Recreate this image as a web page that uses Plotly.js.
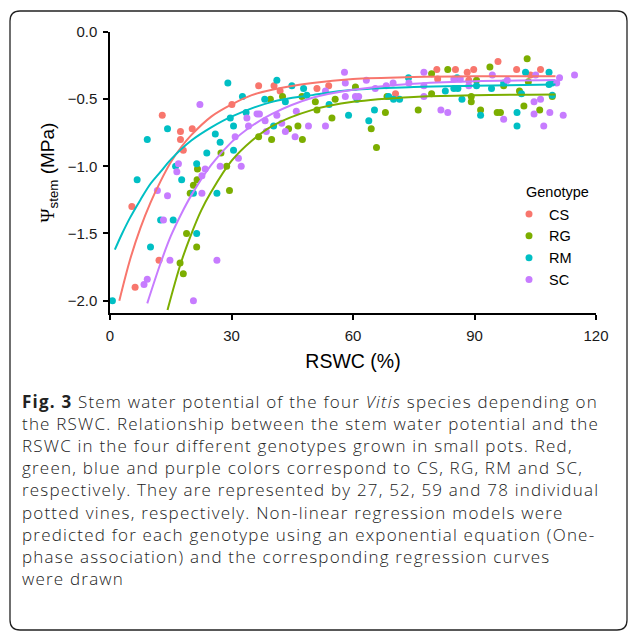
<!DOCTYPE html>
<html>
<head>
<meta charset="utf-8">
<script src="https://cdn.plot.ly/plotly-3.0.1.min.js"></script>
<style>html,body{margin:0;padding:0;background:#fff;}#chart{width:629px;height:634px;}</style>
</head>
<body>
<div id="chart"></div>
<script>
// ---- data ----
const genotypes = ["CS", "RG", "RM", "SC"];
const colors = ["#F8766D", "#7CAE00", "#00BFC4", "#C77CFF"];

const csX = [5.4, 6.2, 12.1, 12.9, 17.4, 17.4, 18.1, 20.3, 30.1, 36.7, 40.5, 42.0, 51.1, 54.0, 70.5, 80.7, 80.9, 85.3, 88.2, 88.6, 89.8, 95.8, 100.4, 103.8, 106.3];
const csY = [-1.30, -1.90, -1.70, -0.62, -0.74, -0.80, -0.88, -0.72, -0.54, -0.40, -0.40, -0.44, -0.42, -0.40, -0.46, -0.28, -0.35, -0.28, -0.30, -0.36, -0.28, -0.22, -0.28, -0.32, -0.28];

const rgX = [17.3, 18.1, 18.9, 19.8, 20.6, 21.4, 21.5, 21.6, 27.4, 28.8, 29.5, 36.7, 39.6, 39.9, 42.6, 44.1, 46.4, 47.4, 47.5, 50.7, 51.1, 54.8, 55.6, 60.6, 64.5, 65.8, 68.0, 68.4, 76.1, 79.4, 79.4, 83.4, 89.2, 89.2, 90.5, 91.5, 93.8, 95.6, 96.4, 97.2, 101.1, 102.2, 103.0, 103.3, 106.1, 109.2];
const rgY = [-1.72, -1.80, -1.50, -1.20, -1.14, -1.60, -1.10, -1.02, -0.90, -1.00, -1.18, -0.78, -0.50, -0.80, -0.48, -0.72, -0.70, -0.48, -0.80, -0.52, -0.58, -0.64, -0.50, -0.41, -0.72, -0.86, -0.60, -0.48, -0.58, -0.31, -0.46, -0.28, -0.48, -0.52, -0.36, -0.58, -0.26, -0.60, -0.60, -0.40, -0.44, -0.55, -0.20, -0.37, -0.58, -0.48];

const rmX = [0.6, 6.7, 9.2, 10.0, 12.5, 14.2, 15.6, 16.2, 17.7, 21.4, 20.6, 21.4, 23.9, 26.0, 26.4, 27.2, 29.1, 29.7, 30.5, 30.5, 32.7, 33.6, 38.2, 40.4, 41.2, 43.3, 44.9, 47.8, 48.6, 54.1, 58.9, 61.0, 63.9, 65.3, 68.8, 70.0, 71.5, 73.7, 82.8, 84.9, 85.7, 85.9, 86.9, 90.5, 91.5, 94.2, 97.2, 100.5, 100.5, 101.6, 102.6, 108.4, 108.4, 109.2, 109.2];
const rmY = [-2.00, -1.10, -0.80, -1.60, -1.40, -0.72, -1.40, -1.00, -1.10, -0.98, -1.20, -1.50, -0.90, -0.76, -1.20, -0.82, -0.38, -0.64, -0.70, -0.88, -0.48, -0.60, -0.50, -0.70, -0.36, -0.52, -0.40, -0.42, -0.47, -0.54, -0.62, -0.50, -0.66, -0.58, -0.48, -0.50, -0.50, -0.34, -0.44, -0.42, -0.34, -0.42, -0.50, -0.40, -0.62, -0.42, -0.38, -0.60, -0.70, -0.46, -0.30, -0.30, -0.39, -0.38, -0.47];

const scX = [8.4, 9.2, 11.7, 13.2, 14.2, 14.8, 16.5, 16.9, 20.6, 22.2, 22.7, 22.7, 23.5, 26.4, 27.2, 30.9, 31.7, 32.4, 33.8, 34.2, 36.3, 36.9, 38.3, 38.6, 41.2, 42.4, 43.3, 45.7, 46.0, 49.0, 53.2, 53.2, 57.9, 58.1, 58.1, 60.6, 61.4, 63.3, 65.5, 68.2, 69.9, 73.8, 77.5, 77.5, 77.5, 81.7, 83.4, 84.9, 86.5, 88.6, 94.4, 97.2, 98.1, 104.7, 104.7, 105.1, 106.3, 107.1, 108.6, 110.3, 111.0, 111.9, 114.7];
const scY = [-1.88, -1.84, -1.18, -1.40, -1.22, -1.70, -1.04, -0.98, -2.00, -0.54, -1.20, -1.07, -1.02, -1.70, -1.00, -0.78, -0.94, -1.00, -0.64, -0.70, -0.61, -0.61, -0.66, -0.74, -0.62, -0.68, -0.74, -0.78, -0.59, -0.70, -0.44, -0.70, -0.30, -0.38, -0.48, -0.48, -0.48, -0.36, -0.42, -0.40, -0.38, -0.38, -0.30, -0.40, -0.48, -0.58, -0.60, -0.35, -0.35, -0.40, -0.32, -0.65, -0.36, -0.52, -0.61, -0.32, -0.50, -0.70, -0.60, -0.38, -0.34, -0.62, -0.32];

// regression curves
const csFitX = [2.3, 5, 7.5, 10, 12.5, 15, 17.5, 20, 25, 30, 35, 40, 50, 60, 75, 90, 110];
const csFitY = [-2.00, -1.69, -1.46, -1.27, -1.11, -0.97, -0.86, -0.77, -0.63, -0.54, -0.47, -0.43, -0.38, -0.35, -0.335, -0.33, -0.33];
const rgFitX = [14.2, 17.5, 20, 22.5, 25, 30, 35, 40, 50, 60, 75, 90, 110];
const rgFitY = [-2.07, -1.72, -1.51, -1.33, -1.19, -0.96, -0.81, -0.70, -0.58, -0.52, -0.483, -0.471, -0.466];
const rmFitX = [1.2, 3, 5, 7.5, 10, 12.5, 15, 20, 25, 30, 40, 50, 60, 75, 90, 110];
const rmFitY = [-1.62, -1.50, -1.38, -1.25, -1.13, -1.04, -0.95, -0.81, -0.71, -0.63, -0.52, -0.47, -0.43, -0.41, -0.40, -0.39];
const scFitX = [9.2, 12.5, 15, 17.5, 20, 25, 30, 35, 40, 50, 60, 75, 90, 110];
const scFitY = [-2.02, -1.72, -1.52, -1.36, -1.22, -0.99, -0.82, -0.70, -0.61, -0.49, -0.43, -0.385, -0.367, -0.358];

const xTicks = [0, 30, 60, 90, 120];
const yTicks = [0, -0.5, -1.0, -1.5, -2.0];

const captionLines = [
  "<b>Fig. 3</b> Stem water potential of the four <i>Vitis</i> species depending on",
  "the RSWC. Relationship between the stem water potential and the",
  "RSWC in the four different genotypes grown in small pots. Red,",
  "green, blue and purple colors correspond to CS, RG, RM and SC,",
  "respectively. They are represented by 27, 52, 59 and 78 individual",
  "potted vines, respectively. Non-linear regression models were",
  "predicted for each genotype using an exponential equation (One-",
  "phase association) and the corresponding regression curves",
  "were drawn"
];

// ---- figure ----
const W = 629, H = 634;
const M = {l: 110, r: 33, t: 32, b: 321};
const PW = W - M.l - M.r, PH = H - M.t - M.b;
const px2x = p => (p - M.l) / PW;
const px2y = p => (H - M.b - p) / PH;

const pointSets = [[csX, csY], [rgX, rgY], [rmX, rmY], [scX, scY]];
const fitSets = [[csFitX, csFitY], [rgFitX, rgFitY], [rmFitX, rmFitY], [scFitX, scFitY]];

const traces = [];
pointSets.forEach((s, i) => {
  traces.push({
    type: "scatter", mode: "markers", name: genotypes[i],
    x: s[0], y: s[1],
    marker: {color: colors[i], size: 7},
    cliponaxis: true, hoverinfo: "x+y+name"
  });
});
fitSets.forEach((s, i) => {
  traces.push({
    type: "scatter", mode: "lines", name: genotypes[i] + " fit",
    x: s[0], y: s[1], showlegend: false,
    line: {color: colors[i], width: 2, shape: "spline", smoothing: 1}
  });
});

// rounded frame
const L = 10, R = 627, T = 11, B = 630, rad = 10;
const framePath = [
  `M ${px2x(L + rad)},${px2y(T)}`,
  `L ${px2x(R - rad)},${px2y(T)}`,
  `Q ${px2x(R)},${px2y(T)} ${px2x(R)},${px2y(T + rad)}`,
  `L ${px2x(R)},${px2y(B - rad)}`,
  `Q ${px2x(R)},${px2y(B)} ${px2x(R - rad)},${px2y(B)}`,
  `L ${px2x(L + rad)},${px2y(B)}`,
  `Q ${px2x(L)},${px2y(B)} ${px2x(L)},${px2y(B - rad)}`,
  `L ${px2x(L)},${px2y(T + rad)}`,
  `Q ${px2x(L)},${px2y(T)} ${px2x(L + rad)},${px2y(T)} Z`
].join(" ");

const axisFont = {family: "Liberation Sans, Arial, sans-serif", size: 15, color: "#1a1a1a"};

const captionText = captionLines
  .map(line => '<span style="letter-spacing:1.2px">' + line + '</span>')
  .join("<br>");

const annotations = [
  {text: "Genotype", xref: "paper", yref: "paper", x: px2x(524), y: px2y(192),
   xanchor: "left", yanchor: "middle", showarrow: false, font: {size: 14.5, color: "#000"}},
  {text: captionText, xref: "paper", yref: "paper",
   x: px2x(20), y: px2y(388), xanchor: "left", yanchor: "top",
   align: "left", showarrow: false,
   font: {family: "Open Sans, sans-serif", size: 17, color: "#222", weight: 300}}
];

const layout = {
  width: W, height: H,
  margin: M,
  paper_bgcolor: "#fff", plot_bgcolor: "#fff",
  showlegend: true,
  font: {family: "Liberation Sans, Arial, sans-serif", color: "#000"},
  xaxis: {
    range: [0, 120], tickvals: xTicks, tickformat: "d",
    showline: true, linecolor: "#000", linewidth: 1.5,
    ticks: "outside", ticklen: 5, tickwidth: 1.5, tickcolor: "#000",
    ticklabelstandoff: 3,
    showgrid: false, zeroline: false, tickfont: axisFont,
    title: {text: "RSWC (%)", font: {size: 19.5, color: "#000"}, standoff: 12}
  },
  yaxis: {
    range: [-2.092, 0], tickvals: yTicks, tickformat: ".1f",
    showline: true, linecolor: "#000", linewidth: 1.5,
    ticks: "outside", ticklen: 5, tickwidth: 1.5, tickcolor: "#000",
    ticklabelstandoff: 3,
    showgrid: false, zeroline: false, tickfont: axisFont,
    title: {text: "<span style=\"font-family:'Liberation Serif',serif\">Ψ</span><sub>stem</sub> (MPa)", font: {size: 19, color: "#000"}, standoff: 8}
  },
  legend: {
    x: px2x(509), xanchor: "left", y: px2y(198), yanchor: "top",
    bgcolor: "rgba(0,0,0,0)", borderwidth: 0,
    font: {size: 14.5, color: "#000"}, itemclick: false
  },
  shapes: [{type: "path", xref: "paper", yref: "paper", path: framePath,
            line: {color: "#222", width: 1.3}, fillcolor: "rgba(0,0,0,0)", layer: "below"}],
  annotations: annotations
};

Plotly.newPlot("chart", traces, layout, {displayModeBar: false, responsive: false});
</script>
</body>
</html>
